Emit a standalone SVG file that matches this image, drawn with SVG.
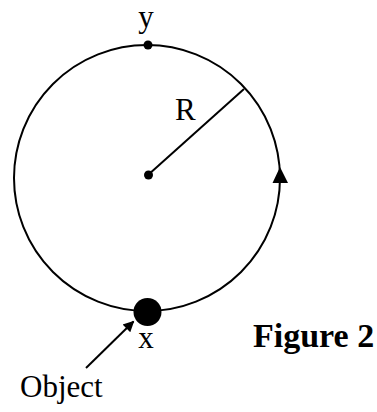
<svg xmlns="http://www.w3.org/2000/svg" width="377" height="412" viewBox="0 0 377 412">
<style>
.ln{fill:none;stroke:#000;stroke-width:2}
.dot{fill:#000}
.t{font-family:"Liberation Serif","Times New Roman",serif;font-size:31px;fill:#000}
.b{font-weight:bold;font-size:34px}
</style>
<defs>
<marker id="ah" viewBox="0 0 10 10" refX="9" refY="5" markerWidth="16" markerHeight="11" markerUnits="userSpaceOnUse" orient="auto">
<path d="M0,0 L10,5 L0,10 Z" fill="#000"/>
</marker>
</defs>
<rect width="377" height="412" fill="#fff"/>
<g id="connectors">
<circle class="ln" cx="147" cy="178" r="133"/>
<line class="ln" x1="148" y1="175" x2="244" y2="89"/>
<polygon points="280,167 272.5,183 288,183" fill="#000"/>
<line class="ln" x1="86" y1="368" x2="133.5" y2="321.5" marker-end="url(#ah)"/>
</g>
<g id="point-y">
<circle class="dot" cx="148" cy="45" r="4.5"/>
<text class="t" x="146" y="27" text-anchor="middle">y</text>
</g>
<g id="center">
<circle class="dot" cx="148.5" cy="175" r="4.5"/>
</g>
<g id="label-R">
<text class="t" x="175" y="120">R</text>
</g>
<g id="object-x">
<circle class="dot" cx="147.5" cy="312" r="14"/>
<text class="t" x="146" y="348" text-anchor="middle">x</text>
</g>
<g id="label-object">
<text class="t" x="20" y="397">Object</text>
</g>
<g id="caption">
<text class="t b" x="253" y="347">Figure 2</text>
</g>
</svg>
